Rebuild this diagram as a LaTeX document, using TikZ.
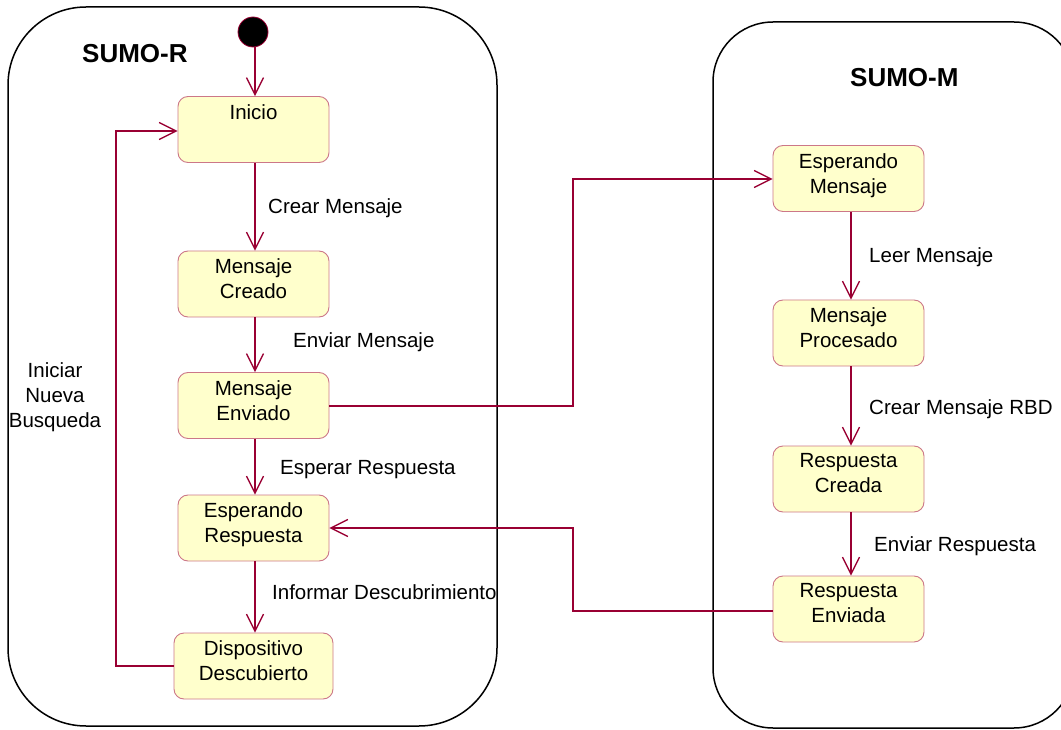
\documentclass[tikz,border=0pt]{standalone}
\usepackage{fontspec}
\setmainfont{Liberation Sans}
\usetikzlibrary{arrows.meta}
\definecolor{stfill}{HTML}{FFFFCC}
\definecolor{stline}{HTML}{CC7788}
\definecolor{trans}{HTML}{990033}
\begin{document}
\begin{tikzpicture}[x=1pt,y=-1pt,
  every node/.style={font=\fontsize{20.5}{25}\selectfont, inner sep=0pt},
  state/.style={draw=stline, fill=stfill, rounded corners=10pt, line width=0.9pt,
    minimum width=151pt, minimum height=66pt},
  statetext/.style={anchor=north, align=center},
  initial/.style={circle, fill=black, draw=trans, line width=0.8pt, minimum size=30pt},
  region/.style={draw=black, line width=1.5pt},
  title/.style={anchor=base west, font=\fontsize{26}{30}\selectfont\bfseries},
  tlabel/.style={anchor=base west},
  flow/.style={draw=trans, line width=1.3pt, -{Straight Barb[length=17pt,width=17pt,line width=1.3pt]}}
]
\useasboundingbox (0,0) rectangle (1061,730);

% composite state regions
\draw[region, rounded corners=78pt] (8,7) rectangle (497,726);
\draw[region, rounded corners=60pt] (713,22) rectangle (1074,728);
\node[title] (sumor) at (82,63) {SUMO-R};
\node[title] (sumom) at (850,87) {SUMO-M};

% SUMO-R states
\node[initial] (ini) at (253,32) {};
\node[state] (inicio)   at (253.5,129.5) {};
\node[state] (creado)   at (253.5,284) {};
\node[state] (enviado)  at (253.5,405.5) {};
\node[state] (esperR)   at (253.5,528) {};
\node[state, minimum width=159pt] (disp) at (253.5,666) {};
\node[statetext] at ([yshift=-8pt]inicio.north) {Inicio};
\node[statetext] at ([yshift=-8pt]creado.north) {Mensaje\\Creado};
\node[statetext] at ([yshift=-8pt]enviado.north) {Mensaje\\Enviado};
\node[statetext] at ([yshift=-8pt]esperR.north) {Esperando\\Respuesta};
\node[statetext] at ([yshift=-8pt]disp.north) {Dispositivo\\Descubierto};

% SUMO-M states
\node[state] (esperM)  at (848.5,178.5) {};
\node[state] (proc)    at (848.5,333) {};
\node[state] (rcreada) at (848.5,479) {};
\node[state] (renv)    at (848.5,609) {};
\node[statetext] at ([yshift=-8pt]esperM.north) {Esperando\\Mensaje};
\node[statetext] at ([yshift=-8pt]proc.north) {Mensaje\\Procesado};
\node[statetext] at ([yshift=-8pt]rcreada.north) {Respuesta\\Creada};
\node[statetext] at ([yshift=-8pt]renv.north) {Respuesta\\Enviada};

% transitions inside SUMO-R
\draw[flow] (ini.south -| 255,0) -- (inicio.north -| 255,0);
\draw[flow] (inicio.south -| 255,0) -- (creado.north -| 255,0);
\draw[flow] (creado.south -| 255,0) -- (enviado.north -| 255,0);
\draw[flow] (enviado.south -| 255,0) -- (esperR.north -| 255,0);
\draw[flow] (esperR.south -| 255,0) -- (disp.north -| 255,0);
\draw[flow] (disp.west) -- (116,666) -- (116,131) -- (inicio.west |- 0,131);

% transitions inside SUMO-M
\draw[flow] (esperM.south -| 851,0) -- (proc.north -| 851,0);
\draw[flow] (proc.south -| 851,0) -- (rcreada.north -| 851,0);
\draw[flow] (rcreada.south -| 851,0) -- (renv.north -| 851,0);

% transitions between regions
\draw[flow] (enviado.east |- 0,406) -- (573,406) -- (573,179) -- (esperM.west |- 0,179);
\draw[flow] (renv.west |- 0,611) -- (573,611) -- (573,528) -- (esperR.east |- 0,528);

% transition labels
\node[tlabel] (l1) at (268,214) {Crear Mensaje};
\node[tlabel] (l2) at (293,348) {Enviar Mensaje};
\node[tlabel] (l3) at (280,474) {Esperar Respuesta};
\node[tlabel] (l4) at (272,599) {Informar Descubrimiento};
\node[anchor=base, align=center] (l5) at (55,427) {Iniciar\\Nueva\\Busqueda};
\node[tlabel] (l6) at (869,263) {Leer Mensaje};
\node[tlabel] (l7) at (869,414) {Crear Mensaje RBD};
\node[tlabel] (l8) at (874,551) {Enviar Respuesta};
\end{tikzpicture}
\end{document}
